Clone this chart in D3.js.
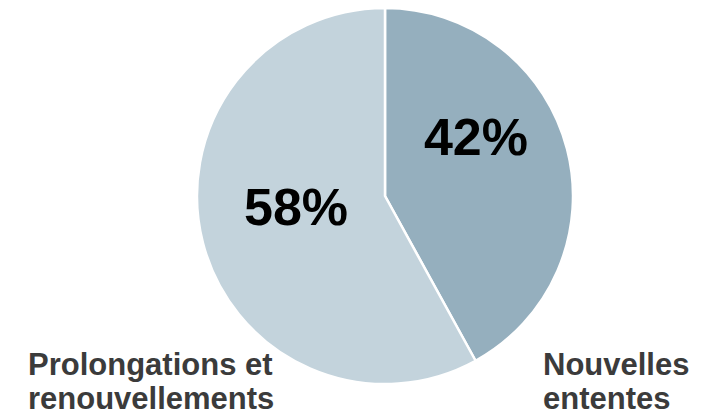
<!DOCTYPE html>
<html>
<head>
<meta charset="utf-8">
<script src="https://cdn.jsdelivr.net/npm/d3@7"></script>
<style>
  html, body { margin: 0; padding: 0; background: #fff; }
  svg { display: block; }
  text { font-family: "Liberation Sans", Arial, sans-serif; font-weight: bold; }
</style>
</head>
<body>
<svg id="chart" width="707" height="415"></svg>
<script>
const categories = ["Nouvelles ententes", "Prolongations et renouvellements"];
const values = [42, 58];
const percentLabels = ["42%", "58%"];
const categoryLines = [["Nouvelles", "ententes"], ["Prolongations et", "renouvellements"]];
const colors = ["#95afbe", "#c3d3dc"];

const svg = d3.select("#chart");
const cx = 385, cy = 196, R = 188;

const pie = d3.pie().sort(null).value(d => d)(values);
const arc = d3.arc().innerRadius(0).outerRadius(R);

const g = svg.append("g").attr("transform", `translate(${cx},${cy})`);

g.selectAll("path.slice")
  .data(pie)
  .join("path")
  .attr("class", "slice")
  .attr("d", arc)
  .attr("fill", (d, i) => colors[i])
  .attr("stroke", "#ffffff")
  .attr("stroke-width", 2.5)
  .attr("stroke-linejoin", "round");

// percent labels placed inside slices
const labelPos = [
  { dx: 91, dy: -41 },
  { dx: -89, dy: 29 }
];
g.selectAll("text.pct")
  .data(pie)
  .join("text")
  .attr("class", "pct")
  .attr("x", (d, i) => labelPos[i].dx)
  .attr("y", (d, i) => labelPos[i].dy)
  .attr("text-anchor", "middle")
  .attr("font-size", 52)
  .attr("fill", "#000")
  .text((d, i) => percentLabels[i]);

// category labels
const catPos = [
  { x: 543, y: 375 },
  { x: 28, y: 375 }
];
categoryLines.forEach((lines, i) => {
  const t = svg.append("text")
    .attr("x", catPos[i].x)
    .attr("y", catPos[i].y)
    .attr("font-size", 31)
    .attr("fill", "#3b3b3b");
  lines.forEach((ln, j) => {
    t.append("tspan")
      .attr("x", catPos[i].x)
      .attr("dy", j === 0 ? 0 : 34)
      .text(ln);
  });
});
</script>
</body>
</html>
